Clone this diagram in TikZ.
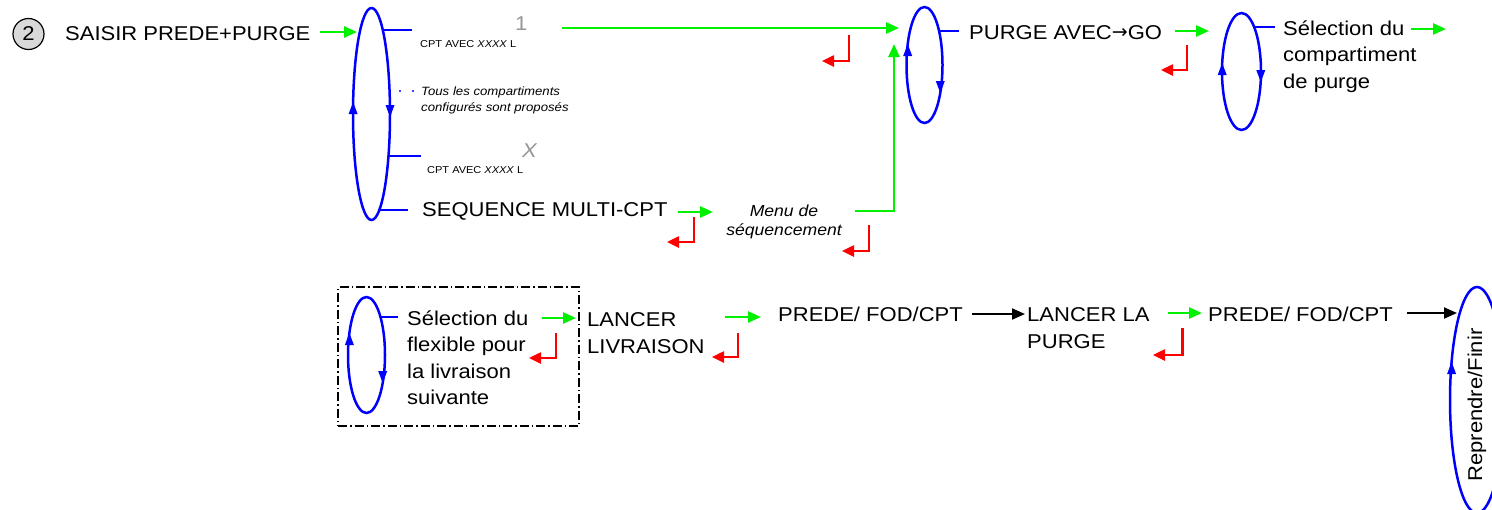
\documentclass[tikz,border=0pt]{standalone}
\usepackage{fontspec}
\setmainfont[FakeStretch=1.1]{Liberation Sans}
\newfontfamily\arrowfont{DejaVu Sans}
\usetikzlibrary{arrows.meta,shapes.geometric}
\definecolor{gr}{RGB}{0,240,0}
\definecolor{rd}{RGB}{255,0,0}
\definecolor{bl}{RGB}{0,0,255}
\definecolor{gy}{RGB}{150,150,150}
\newcommand\ArrUp[1]{\fill[bl] (#1) -- ++(-4.5,12) -- ++(9,0) -- cycle;}
\newcommand\ArrDown[1]{\fill[bl] (#1) -- ++(-4.5,-12) -- ++(9,0) -- cycle;}
\begin{document}
\begin{tikzpicture}[x=1pt,y=-1pt,
  big/.style={font=\fontsize{20}{26.6}\selectfont, inner sep=0pt, align=left, anchor=base west},
  small/.style={font=\fontsize{10}{12}\selectfont, inner sep=0pt, anchor=base west},
  note/.style={font=\fontsize{12}{16}\selectfont\itshape, inner sep=0pt, align=left, anchor=base west},
  ell/.style={ellipse, draw=bl, line width=2.5pt, inner sep=0pt},
  tick/.style={draw=bl, line width=2.5pt},
  garrow/.style={draw=gr, line width=2.5pt, -{Triangle[length=13pt,width=11pt]}},
  rarrow/.style={draw=rd, line width=2.5pt, -{Triangle[length=12pt,width=11pt]}},
  karrow/.style={draw=black, line width=2pt, -{Triangle[length=13pt,width=11pt]}},
]
\useasboundingbox (0,0) rectangle (1492,509);
\clip (0,0) rectangle (1492,509);

% ---------- top row ----------
\node[circle, draw, fill=gray!30, line width=1.2pt, minimum size=31pt, inner sep=0pt,
      font=\fontsize{20}{24}\selectfont] (c2) at (28.5,34) {2};
\node[big] (saisir) at (65,40) {SAISIR PREDE+PURGE};

\node[ell, minimum width=37pt, minimum height=212pt] (e1) at (371.5,114) {};
\ArrUp{353.1,102}
\ArrDown{390,117}
\draw[tick] (382,30) -- (412,30);
\draw[tick] (388,156) -- (421,156);
\draw[tick] (378,210) -- (408,210);
\fill[bl] (400,91) circle (1.2);
\fill[bl] (413,91) circle (1.2);

\node[font=\fontsize{20}{24}\selectfont, text=gy, inner sep=0pt, anchor=base west] (one) at (515,30) {1};
\node[small] (cpt1) at (420,47) {CPT AVEC \textit{XXXX} L};
\node[note] (tous) at (421,111) {Tous les compartiments\\configurés sont proposés};
\node[font=\fontsize{20}{24}\selectfont\itshape, text=gy, inner sep=0pt, anchor=base west] (xx) at (522,157) {X};
\node[small] (cpt2) at (427,173) {CPT AVEC \textit{XXXX} L};
\node[big] (seq) at (422,216) {SEQUENCE MULTI-CPT};
\node[font=\fontsize{16}{19}\selectfont\itshape, inner sep=0pt, align=center, anchor=base] (menu) at (784,235) {Menu de\\séquencement};

\node[ell, minimum width=36pt, minimum height=116pt] (e2) at (924.5,65) {};
\ArrUp{907.7,44}
\ArrDown{940.3,93}
\draw[tick] (938,31) -- (959,31);
\node[big] (purge) at (969,39) {PURGE AVEC\raisebox{0.5pt}{\arrowfont\fontsize{19}{20}\selectfont →}GO};

\node[ell, minimum width=39pt, minimum height=117pt] (e3) at (1241.5,71.5) {};
\ArrUp{1222.2,63}
\ArrDown{1260.8,82}
\draw[tick] (1255,27) -- (1275,27);
\node[big] (sel1) at (1283,88.2) {Sélection du\\compartiment\\de purge};

% connector end points
\coordinate (g1s) at (320,32);  \coordinate (g1e) at (357,32);
\coordinate (g2s) at (562,28);  \coordinate (g2e) at (899,28);
\coordinate (g3s) at (678,212); \coordinate (g3e) at (713,212);
\coordinate (g4s) at (855,211); \coordinate (g4e) at (894,44);
\coordinate (g5s) at (1175,31); \coordinate (g5e) at (1209,31);
\coordinate (g6s) at (1411,29); \coordinate (g6e) at (1446,29);

\draw[garrow] (g1s) -- (g1e);
\draw[garrow] (g2s) -- (g2e);
\draw[garrow] (g3s) -- (g3e);
\draw[garrow] (g4s) -| (g4e);
\draw[garrow] (g5s) -- (g5e);
\draw[garrow] (g6s) -- (g6e);

% red return arrows
\coordinate (r1) at (849,35);   \coordinate (r1e) at (822,61);
\coordinate (r2) at (1187,45);  \coordinate (r2e) at (1161,70);
\coordinate (r3) at (694,217);  \coordinate (r3e) at (667,242);
\coordinate (r4) at (869,225);  \coordinate (r4e) at (842,251);
\draw[rarrow] (r1) |- (r1e);
\draw[rarrow] (r2) |- (r2e);
\draw[rarrow] (r3) |- (r3e);
\draw[rarrow] (r4) |- (r4e);

% ---------- bottom row ----------
\node[draw, line width=1.5pt, dash pattern=on 9pt off 3pt on 1.5pt off 3pt,
      minimum width=241pt, minimum height=139pt, inner sep=0pt] (box) at (458.5,356.5) {};
\node[ell, minimum width=37pt, minimum height=116pt] (e4) at (366.5,355) {};
\ArrUp{349.4,333}
\ArrDown{382.7,383}
\draw[tick] (380,317) -- (398,317);
\node[big] (sel2) at (407,404.8) {Sélection du\\flexible pour\\la livraison\\suivante};

\node[big, font=\fontsize{20}{27}\selectfont] (lancer) at (587,353) {LANCER\\LIVRAISON};
\node[big] (prede1) at (778,321) {PREDE/ FOD/CPT};
\node[big, font=\fontsize{20}{27}\selectfont] (lancerp) at (1027,348) {LANCER LA\\PURGE};
\node[big] (prede2) at (1208,321) {PREDE/ FOD/CPT};

\node[ell, minimum width=54pt, minimum height=226pt] (e5) at (1477,400) {};
\ArrUp{1451.6,362}
\node[font=\fontsize{20}{24}\selectfont, inner sep=0pt, rotate=90] (repr) at (1477,405) {Reprendre/Finir};

\coordinate (g7s) at (542,318);  \coordinate (g7e) at (576,318);
\coordinate (g8s) at (725,317);  \coordinate (g8e) at (761,317);
\coordinate (g9s) at (1168,313); \coordinate (g9e) at (1202,313);
\draw[garrow] (g7s) -- (g7e);
\draw[garrow] (g8s) -- (g8e);
\draw[garrow] (g9s) -- (g9e);

\coordinate (k1s) at (972,314);  \coordinate (k1e) at (1025,314);
\coordinate (k2s) at (1407,313); \coordinate (k2e) at (1457,313);
\draw[karrow] (k1s) -- (k1e);
\draw[karrow] (k2s) -- (k2e);

\coordinate (r5) at (556,333);   \coordinate (r5e) at (529,358);
\coordinate (r6) at (738,333);   \coordinate (r6e) at (712,357);
\coordinate (r7) at (1182.5,328);\coordinate (r7e) at (1153,355);
\draw[rarrow] (r5) |- (r5e);
\draw[rarrow] (r6) |- (r6e);
\draw[rarrow] (r7) |- (r7e);
\end{tikzpicture}
\end{document}
